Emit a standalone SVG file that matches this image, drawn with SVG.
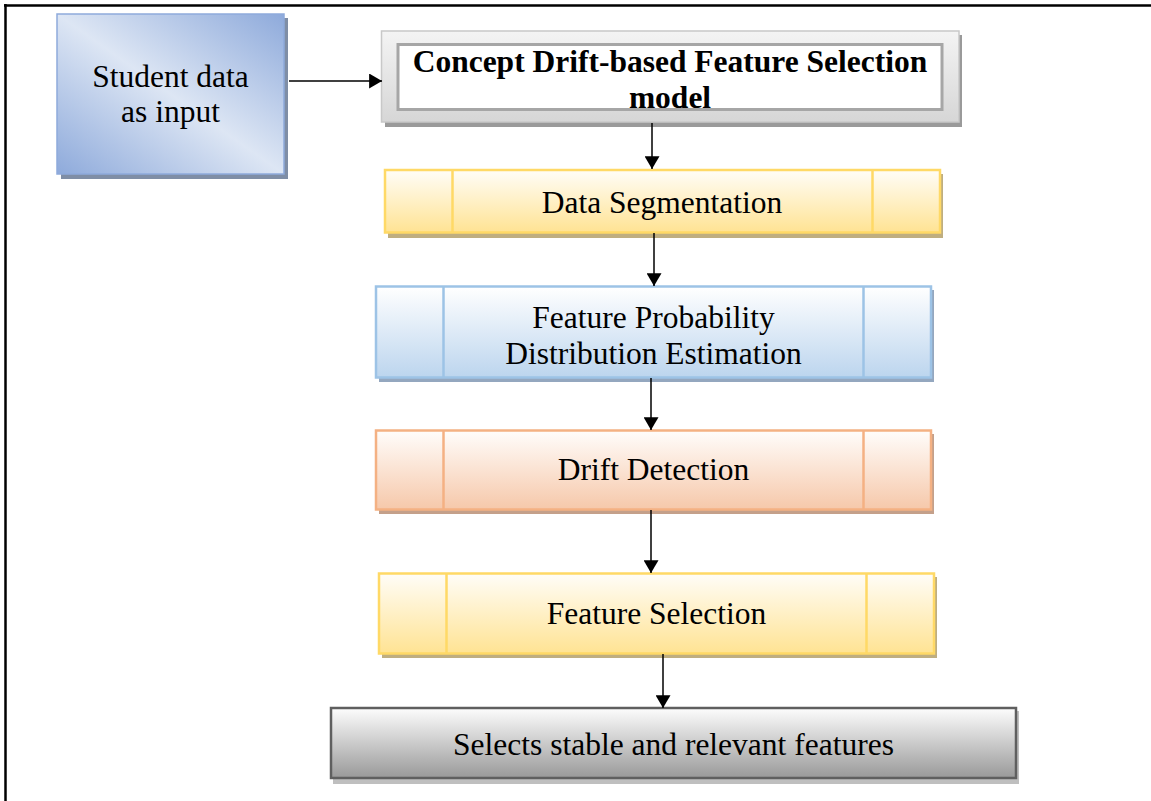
<svg xmlns="http://www.w3.org/2000/svg" width="1151" height="801" viewBox="0 0 1151 801">
  <style>
    .lbl { font-family: "Liberation Serif", "Times New Roman", serif; font-size: 31.5px; fill: #000; text-anchor: middle; }
    .bold { font-weight: bold; }
    .conn { stroke: #000; stroke-width: 1.5; fill: none; marker-end: url(#arrow); }
    .div { stroke-width: 2.5; }
  </style>
  <defs>
    <marker id="arrow" viewBox="0 0 12 14" refX="12" refY="7" markerWidth="13" markerHeight="15" markerUnits="userSpaceOnUse" orient="auto">
      <path d="M0,0 L12,7 L0,14 Z" fill="#000"/>
    </marker>
    <linearGradient id="gBlueDiag" x1="1" y1="0" x2="0" y2="1">
      <stop offset="0" stop-color="#8eaadb"/>
      <stop offset="0.5" stop-color="#dde6f4"/>
      <stop offset="1" stop-color="#8eaadb"/>
    </linearGradient>
    <linearGradient id="gSilver" x1="0" y1="0" x2="0" y2="1">
      <stop offset="0" stop-color="#f4f4f4"/>
      <stop offset="1" stop-color="#d6d6d6"/>
    </linearGradient>
    <linearGradient id="gYellow" x1="0" y1="0" x2="0" y2="1">
      <stop offset="0" stop-color="#fffdf8"/>
      <stop offset="1" stop-color="#ffe393"/>
    </linearGradient>
    <linearGradient id="gBlue" x1="0" y1="0" x2="0" y2="1">
      <stop offset="0" stop-color="#ffffff"/>
      <stop offset="1" stop-color="#bcd5ee"/>
    </linearGradient>
    <linearGradient id="gOrange" x1="0" y1="0" x2="0" y2="1">
      <stop offset="0" stop-color="#fffdfb"/>
      <stop offset="1" stop-color="#f6c8aa"/>
    </linearGradient>
    <linearGradient id="gGray" x1="0" y1="0" x2="0" y2="1">
      <stop offset="0" stop-color="#fdfdfd"/>
      <stop offset="1" stop-color="#999999"/>
    </linearGradient>
  </defs>

  <rect width="1151" height="801" fill="#ffffff"/>

  <!-- page frame -->
  <g id="frame" stroke="#000" stroke-width="2.5" fill="none">
    <line x1="4" y1="5.5" x2="1151" y2="5.5"/>
    <line x1="5.5" y1="4" x2="5.5" y2="801"/>
  </g>

  <!-- input -->
  <g id="node-input">
    <rect x="61" y="18" width="227" height="161" fill="#7f8ea6"/>
    <rect x="57" y="14" width="227" height="160" fill="url(#gBlueDiag)" stroke="#8eaadb" stroke-width="1.5"/>
    <text class="lbl" x="170.5" y="87">Student data</text>
    <text class="lbl" x="170.5" y="122">as input</text>
  </g>

  <!-- model title -->
  <g id="node-model">
    <rect x="385" y="35" width="577" height="92" fill="#9a9a9a"/>
    <rect x="381.5" y="31" width="577.5" height="91" fill="url(#gSilver)" stroke="#c8c8c8" stroke-width="1.5"/>
    <rect x="398" y="44.5" width="544" height="65" fill="#ffffff" stroke="#a6a6a6" stroke-width="3"/>
    <text class="lbl bold" x="670" y="72">Concept Drift-based Feature Selection</text>
    <text class="lbl bold" x="670" y="108">model</text>
  </g>

  <!-- data segmentation -->
  <g id="node-segmentation">
    <rect x="388" y="174" width="555" height="64" fill="#bfae80"/>
    <rect x="385" y="170" width="555" height="62.5" fill="url(#gYellow)" stroke="#ffd966" stroke-width="2.5"/>
    <line class="div" x1="452.5" y1="170" x2="452.5" y2="232.5" stroke="#ffd966"/>
    <line class="div" x1="872.5" y1="170" x2="872.5" y2="232.5" stroke="#ffd966"/>
    <text class="lbl" x="662" y="213">Data Segmentation</text>
  </g>

  <!-- probability estimation -->
  <g id="node-probability">
    <rect x="379" y="290" width="555" height="92" fill="#94a7bf"/>
    <rect x="376" y="286.5" width="555" height="91" fill="url(#gBlue)" stroke="#9dc3e6" stroke-width="2.5"/>
    <line class="div" x1="443.5" y1="286.5" x2="443.5" y2="377.5" stroke="#9dc3e6"/>
    <line class="div" x1="863.5" y1="286.5" x2="863.5" y2="377.5" stroke="#9dc3e6"/>
    <text class="lbl" x="653.5" y="328">Feature Probability</text>
    <text class="lbl" x="653.5" y="364">Distribution Estimation</text>
  </g>

  <!-- drift detection -->
  <g id="node-drift">
    <rect x="379" y="434" width="555" height="80" fill="#c4a08a"/>
    <rect x="376" y="430.5" width="555" height="79" fill="url(#gOrange)" stroke="#f4b183" stroke-width="2.5"/>
    <line class="div" x1="443.5" y1="430.5" x2="443.5" y2="509.5" stroke="#f4b183"/>
    <line class="div" x1="863.5" y1="430.5" x2="863.5" y2="509.5" stroke="#f4b183"/>
    <text class="lbl" x="653.5" y="480">Drift Detection</text>
  </g>

  <!-- feature selection -->
  <g id="node-selection">
    <rect x="382" y="577" width="555" height="81" fill="#bfae80"/>
    <rect x="379" y="573.5" width="555" height="80" fill="url(#gYellow)" stroke="#ffd966" stroke-width="2.5"/>
    <line class="div" x1="446.5" y1="573.5" x2="446.5" y2="653.5" stroke="#ffd966"/>
    <line class="div" x1="866.5" y1="573.5" x2="866.5" y2="653.5" stroke="#ffd966"/>
    <text class="lbl" x="656.5" y="624">Feature Selection</text>
  </g>

  <!-- output -->
  <g id="node-output">
    <rect x="333" y="711" width="686" height="73" fill="#bfbfbf"/>
    <rect x="331" y="708" width="685" height="70" fill="url(#gGray)" stroke="#5f5f5f" stroke-width="2.5"/>
    <text class="lbl" x="673.5" y="755">Selects stable and relevant features</text>
  </g>

  <!-- connectors -->
  <g id="connectors">
    <line class="conn" x1="289" y1="81" x2="382" y2="81"/>
    <line class="conn" x1="652" y1="123" x2="652" y2="169"/>
    <line class="conn" x1="654" y1="233" x2="654" y2="286"/>
    <line class="conn" x1="651" y1="378" x2="651" y2="430"/>
    <line class="conn" x1="651" y1="510" x2="651" y2="573"/>
    <line class="conn" x1="663" y1="654" x2="663" y2="708"/>
  </g>
</svg>
